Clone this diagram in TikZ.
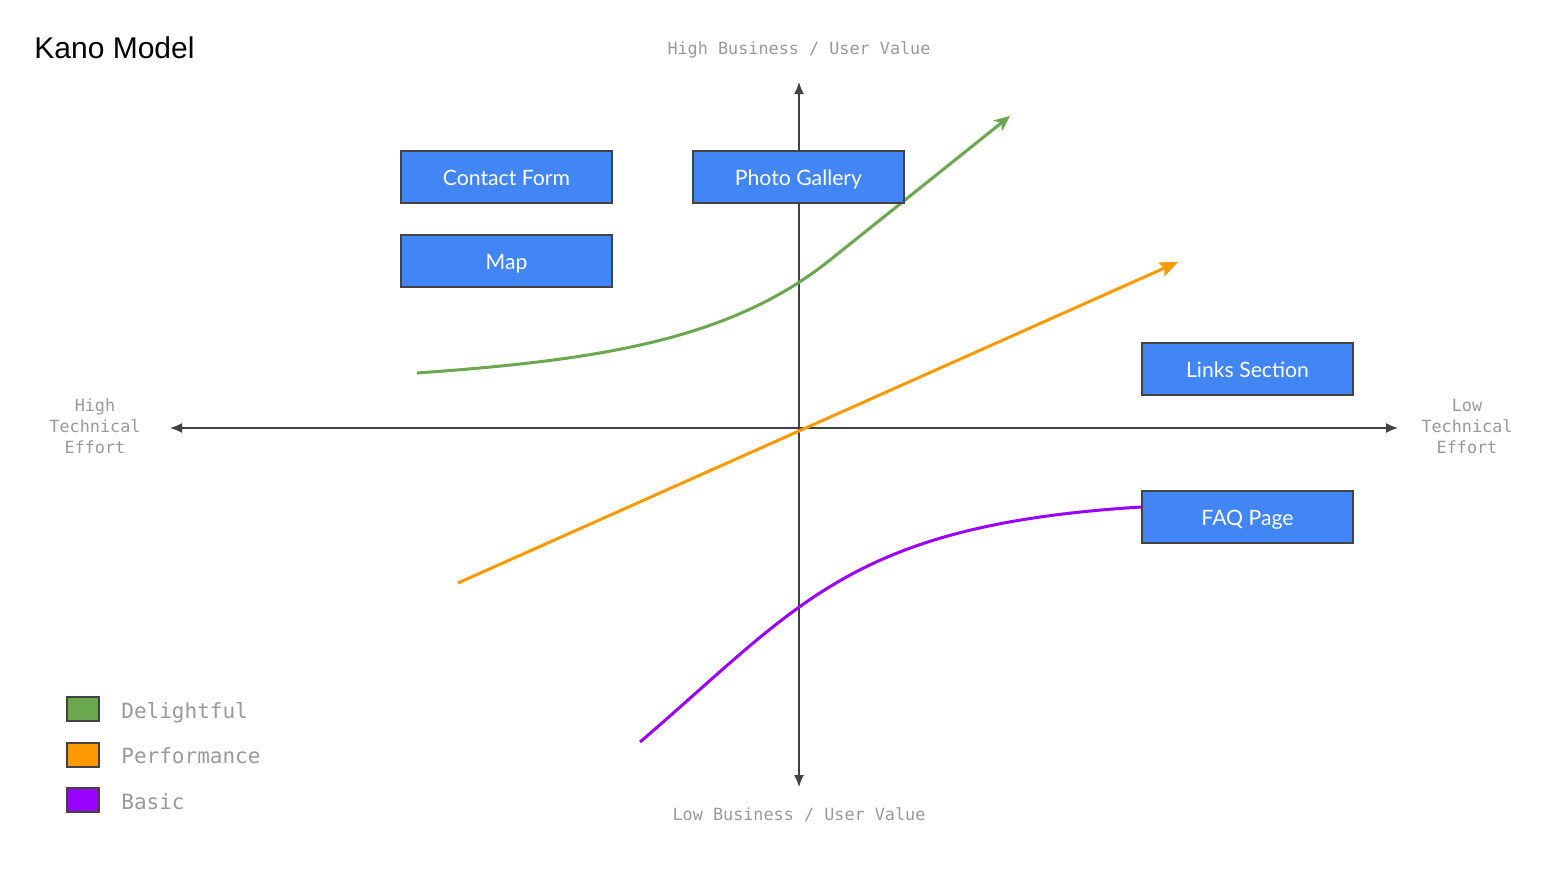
\documentclass[tikz,border=0pt]{standalone}
\usepackage{fontspec}
\usetikzlibrary{arrows.meta,positioning}
\newfontfamily\kanotitle{Liberation Sans}
\newfontfamily\kanobox{Lato}
\newfontfamily\kanomono{DejaVu Sans Mono}
\definecolor{boxblue}{HTML}{4285F4}
\definecolor{boxline}{HTML}{434343}
\definecolor{axisgrey}{HTML}{424242}
\definecolor{labelgrey}{HTML}{999999}
\definecolor{delight}{HTML}{6AA84F}
\definecolor{perform}{HTML}{FF9900}
\definecolor{basic}{HTML}{9900FF}
\tikzset{
  feature/.style={draw=boxline, line width=0.8pt, fill=boxblue, text=white,
    minimum width=105.5pt, minimum height=26pt, inner sep=0pt,
    text height=8.7pt, text depth=0pt,
    font=\kanobox\fontsize{10.6}{12}\selectfont},
  axis/.style={draw=axisgrey, line width=0.75pt, {Latex[length=6pt,width=5pt]}-{Latex[length=6pt,width=5pt]}},
  axislabel/.style={text=labelgrey, align=center, inner sep=0pt,
    font=\kanomono\fontsize{8.4}{10.5}\selectfont},
  curve/.style={line width=1.5pt},
  legendbox/.style={draw=boxline, line width=0.8pt, minimum width=16pt, minimum height=12pt, inner sep=0pt},
  legendtext/.style={text=labelgrey, anchor=base west, inner sep=0pt,
    font=\kanomono\fontsize{10.5}{12}\selectfont}
}
\begin{document}
\begin{tikzpicture}[x=0.5pt, y=-0.5pt]
\useasboundingbox (0,0) rectangle (1546,868);
% title
\node[anchor=west, inner sep=0pt, font=\kanotitle\fontsize{15}{17}\selectfont] (title) at (34,48) {Kano Model};
% axes
\coordinate (xlow) at (170,428);
\coordinate (xhigh) at (1398,428);
\coordinate (yhigh) at (799,82);
\coordinate (ylow) at (799,787);
\draw[axis] (xlow) -- (xhigh);
\draw[axis] (ylow) -- (yhigh);
\node[axislabel] (topval) at (799,50) {High Business / User Value};
\node[axislabel] (botval) at (799,815) {Low Business / User Value};
\node[axislabel] (higheff) at (95,426) {High\\Technical\\Effort};
\node[axislabel] (loweff) at (1467,426) {Low\\Technical\\Effort};
% curves
\coordinate (dstart) at (417,373);
\coordinate (dbend) at (830,260);
\coordinate (dend) at (1010,116);
\draw[curve, delight, -{Stealth[length=8pt,width=7pt]}] (dstart) .. controls (600,360) and (730,340) .. (dbend) -- (dend);
\coordinate (pstart) at (458,583);
\coordinate (pend) at (1178,262);
\draw[curve, perform, -{Stealth[length=9pt,width=7.5pt,inset=1.5pt]}] (pstart) -- (pend);
% features
\node[feature] (contact) at (506.5,177) {Contact Form};
\node[feature] (map) at (506.5,261) {Map};
\node[feature] (photo) at (798.5,177) {Photo Gallery};
\node[feature] (links) at (1247.5,369) {Links Section};
\node[feature] (faq) at (1247.5,517) {FAQ Page};
\coordinate (bstart) at (640,742);
\coordinate (bend) at (faq.west |- 0,507);
\draw[curve, basic] (bstart) .. controls (800,605) and (850,525) .. (bend);
% legend
\node[legendbox, fill=delight] (lgdelight) at (83,709) {};
\node[legendbox, fill=perform] (lgperform) at (83,755) {};
\node[legendbox, fill=basic] (lgbasic) at (83,800) {};
\node[legendtext] (txdelight) at (121,718) {Delightful};
\node[legendtext] (txperform) at (121,763) {Performance};
\node[legendtext] (txbasic) at (121,809) {Basic};
\end{tikzpicture}
\end{document}
